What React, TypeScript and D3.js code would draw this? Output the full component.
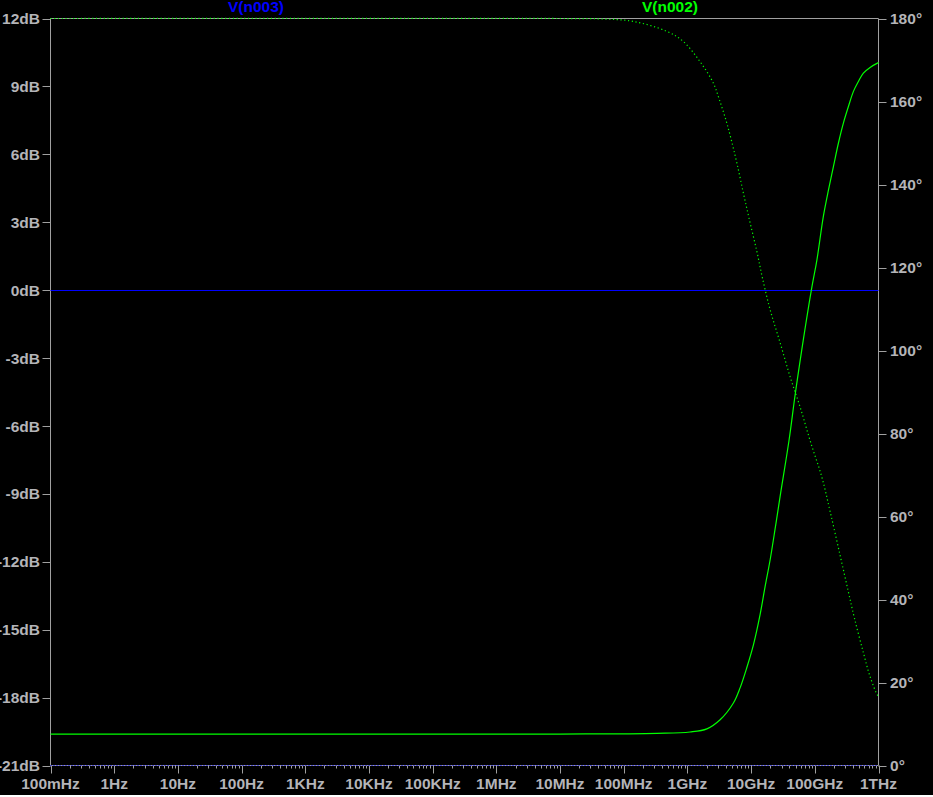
import { useMemo } from 'react'
import * as d3 from 'd3'

// V(n002) magnitude (dB) vs frequency (Hz)
const magFreq = [0.1, 1e7, 3.34e8, 1.10e9, 2.02e9, 3.26e9, 5.27e9, 6.71e9, 8.55e9, 1.09e10, 1.38e10, 1.66e10, 1.99e10, 2.38e10, 2.85e10, 3.95e10, 5.04e10, 8.85e10, 1.08e11, 1.36e11, 1.64e11, 1.96e11, 2.35e11, 2.81e11, 3.37e11, 4.04e11, 4.84e11, 5.79e11, 7.38e11, 9.62e11, 1e12]
const magDb = [-19.61, -19.61, -19.58, -19.52, -19.38, -18.98, -18.24, -17.57, -16.68, -15.66, -14.35, -13.09, -11.91, -10.55, -9.12, -6.61, -4.40, 0.02, 1.34, 3.25, 4.43, 5.46, 6.50, 7.38, 8.11, 8.78, 9.22, 9.59, 9.84, 10.03, 10.05]

// V(n002) phase (degrees) vs frequency (Hz)
const phaseFreq = [0.1, 1e7, 4.27e7, 1.41e8, 4.75e8, 8.57e8, 1.58e9, 2.54e9, 3.18e9, 4.01e9, 4.80e9, 5.97e9, 7.57e9, 9.40e9, 1.23e10, 1.50e10, 1.99e10, 2.85e10, 4.09e10, 5.87e10, 8.75e10, 1.29e11, 1.74e11, 2.50e11, 3.37e11, 4.19e11, 5.79e11, 7.38e11, 9.62e11, 1e12]
const phaseDeg = [180, 180, 179.9, 179.3, 176.9, 174.5, 169.6, 164.5, 160.4, 155.6, 151.2, 145.2, 137.9, 131.5, 123.9, 117.6, 109.8, 101.9, 93.7, 86.4, 77.5, 69.5, 61.2, 50.6, 41.8, 35.5, 27.2, 21.4, 17.0, 16.8]

// V(n003): flat 0dB, 0°
const refFreq = [0.1, 1e12]
const refDb = [0, 0]
const refDeg = [0, 0]

const xTickLabels = ['100mHz', '1Hz', '10Hz', '100Hz', '1KHz', '10KHz', '100KHz', '1MHz', '10MHz', '100MHz', '1GHz', '10GHz', '100GHz', '1THz']
const dbTicks = [12, 9, 6, 3, 0, -3, -6, -9, -12, -15, -18, -21]
const degTicks = [180, 160, 140, 120, 100, 80, 60, 40, 20, 0]

const W = 933
const H = 795
const AXIS = '#a0a0a0'
const TEXT = '#b4b4b8'
const FONT = '"Liberation Sans", Arial, sans-serif'

export default function App() {
  const x = d3.scaleLog().domain([0.1, 1e12]).range([50.5, 878.5])
  const yDb = d3.scaleLinear().domain([-21, 12]).range([765.5, 18.5])
  const yDeg = d3.scaleLinear().domain([0, 180]).range([765.5, 18.5])

  const magLine = useMemo(() => d3.line<number>()
    .x((_, i) => x(magFreq[i]))
    .y(d => yDb(d))
    .curve(d3.curveCatmullRom.alpha(0.5))(magDb), [])
  const phaseLine = useMemo(() => d3.line<number>()
    .x((_, i) => x(phaseFreq[i]))
    .y(d => yDeg(d))
    .curve(d3.curveCatmullRom.alpha(0.5))(phaseDeg), [])
  const refMag = d3.line<number>().x((_, i) => x(refFreq[i])).y(d => Math.round(yDb(d)) + 0.5)(refDb)
  const refPh = d3.line<number>().x((_, i) => x(refFreq[i])).y(d => yDeg(d))(refDeg)

  const [x0, x1] = x.range()
  const [yb, yt] = yDb.range()

  const decades = d3.range(-1, 12)
  const minor: number[] = []
  decades.forEach(e => { for (let k = 2; k <= 9; k++) minor.push(k * Math.pow(10, e)) })

  return (
    <div style={{ position: 'absolute', left: 0, top: 0 }}>
      <svg width={W} height={H} style={{ display: 'block', background: '#000' }} fontFamily={FONT}>
        <rect x={0} y={0} width={W} height={H} fill="#000" />

        {/* frame */}
        <line x1={x0} x2={x1} y1={yt} y2={yt} stroke={AXIS} />
        <line x1={x0} x2={x1} y1={yb} y2={yb} stroke={AXIS} />
        <line x1={x0} x2={x0} y1={yt} y2={yb} stroke={AXIS} />
        <line x1={x1} x2={x1} y1={yt} y2={yb} stroke={AXIS} />

        {/* left axis */}
        {dbTicks.map(t => (
          <g key={'l' + t}>
            <line x1={x0 - 8} x2={x0} y1={Math.round(yDb(t)) + 0.5} y2={Math.round(yDb(t)) + 0.5} stroke={AXIS} />
            <text x={40} y={yDb(t)} dy="0.36em" textAnchor="end" fill={TEXT} fontSize={15.5} fontWeight="bold">{t}dB</text>
          </g>
        ))}

        {/* right axis */}
        {degTicks.map(t => (
          <g key={'r' + t}>
            <line x1={x1} x2={x1 + 8} y1={Math.round(yDeg(t)) + 0.5} y2={Math.round(yDeg(t)) + 0.5} stroke={AXIS} />
            <text x={890} y={yDeg(t)} dy="0.36em" textAnchor="start" fill={TEXT} fontSize={15.5} fontWeight="bold">{t}°</text>
          </g>
        ))}

        {/* bottom axis */}
        {minor.map(f => (
          <line key={'m' + f} x1={Math.round(x(f)) + 0.5} x2={Math.round(x(f)) + 0.5} y1={yb} y2={yb + 3} stroke={AXIS} />
        ))}
        {xTickLabels.map((lab, i) => {
          const f = Math.pow(10, i - 1)
          return (
            <g key={lab}>
              <line x1={Math.round(x(f)) + 0.5} x2={Math.round(x(f)) + 0.5} y1={yb} y2={yb + 8} stroke={AXIS} />
              <text x={x(f)} y={789} textAnchor="middle" fill={TEXT} fontSize={15.5} fontWeight="bold">{lab}</text>
            </g>
          )
        })}

        {/* traces */}
        <path d={refMag ?? ''} fill="none" stroke="#0000ff" strokeWidth={1} />
        <path d={refPh ?? ''} fill="none" stroke="#0000ff" strokeWidth={1} strokeDasharray="1 2" />
        <path d={magLine ?? ''} fill="none" stroke="#00ff00" strokeWidth={1.2} />
        <path d={phaseLine ?? ''} fill="none" stroke="#00ff00" strokeWidth={1.2} strokeDasharray="1.2 2.6" />

        {/* trace names */}
        <text x={256} y={12} textAnchor="middle" fill="#0000ff" fontSize={15.5} fontWeight="bold">V(n003)</text>
        <text x={670} y={12} textAnchor="middle" fill="#00ff00" fontSize={15.5} fontWeight="bold">V(n002)</text>
      </svg>
    </div>
  )
}
